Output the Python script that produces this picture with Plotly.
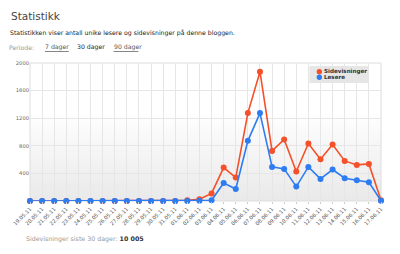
import plotly.graph_objects as go

dates = ["19.05.11","20.05.11","21.05.11","22.05.11","23.05.11","24.05.11","25.05.11",
         "26.05.11","27.05.11","28.05.11","29.05.11","30.05.11","31.05.11","01.06.11",
         "02.06.11","03.06.11","04.06.11","05.06.11","06.06.11","07.06.11","08.06.11",
         "09.06.11","10.06.11","11.06.11","12.06.11","13.06.11","14.06.11","15.06.11",
         "16.06.11","17.06.11"]
sidevisninger = [0,0,0,0,0,0,0,0,0,0,0,0,0,10,25,110,485,340,1274,1874,726,892,427,834,606,819,581,523,537,10]
lesere = [0,0,0,0,0,0,0,0,0,0,0,0,0,0,2,10,262,174,872,1274,494,465,209,494,320,456,330,300,272,5]
y_ticks = [400, 800, 1200, 1600, 2000]
series_names = ["Sidevisninger", "Lesere"]

RED = "#f4502a"
BLUE = "#2e7cf2"

L, R, T, B = 28, 19, 63, 53
W, H = 400, 254
pw, ph = W - L - R, H - T - B

def px(x):
    return (x - L) / pw

def py(y):
    return (H - B - y) / ph

fig = go.Figure()
x_idx = list(range(len(dates)))
for name, vals, col in [(series_names[0], sidevisninger, RED), (series_names[1], lesere, BLUE)]:
    fig.add_trace(go.Scatter(x=x_idx, y=vals, name=name, mode="lines+markers",
                             line=dict(color=col, width=1.6), marker=dict(color=col, size=6),
                             cliponaxis=False, showlegend=False))

# background gradient
shapes = []
n = 30
for k in range(n):
    y0 = k / n * 0.65
    y1 = (k + 1) / n * 0.65 + 0.001
    t = k / (n - 1)
    c = int(234 + (255 - 234) * t)
    shapes.append(dict(type="rect", xref="x domain", yref="y domain", x0=0, x1=1, y0=y0, y1=y1,
                       fillcolor=f"rgb({c},{c},{c})", line=dict(width=0), layer="below"))
shapes.append(dict(type="rect", xref="x domain", yref="y domain", x0=0, x1=1, y0=0, y1=1,
                   fillcolor="rgba(0,0,0,0)", line=dict(color="#dddddd", width=1), layer="below"))

# custom legend
shapes.append(dict(type="rect", xref="paper", yref="paper", x0=px(309), x1=px(368), y0=py(83), y1=py(66),
                   fillcolor="#e6e6e6", line=dict(width=0), layer="above"))
for yy, col in [(71.7, RED), (77.3, BLUE)]:
    shapes.append(dict(type="circle", xref="paper", yref="paper", x0=px(316.3), x1=px(321.7),
                       y0=py(yy + 2.7), y1=py(yy - 2.7), fillcolor=col, line=dict(width=0),
                       layer="above"))

# underlines for links
for x0, x1 in [(43, 67), (112, 137)]:
    shapes.append(dict(type="line", xref="paper", yref="paper", x0=px(x0), x1=px(x1),
                       y0=py(51.5), y1=py(51.5), line=dict(color="#666666", width=0.8)))

font = "DejaVu Sans, Verdana, sans-serif"
ann = [
    dict(text="Statistikk", x=px(7), y=py(16), font=dict(size=10.5, color="#444444")),
    dict(text="Statistikken viser antall unike lesere og sidevisninger på denne bloggen.",
         x=px(6), y=py(33), font=dict(size=6.2, color="#222222")),
    dict(text="Periode:", x=px(5), y=py(47.5), font=dict(size=6.2, color="#999999")),
    dict(text="7 dager", x=px(41), y=py(47.5), font=dict(size=6.2, color="#555555")),
    dict(text="30 dager", x=px(73), y=py(47.5), font=dict(size=6.2, color="#222222")),
    dict(text="90 dager", x=px(110), y=py(47.5), font=dict(size=6.2, color="#555555")),
    dict(text="Sidevisninger siste 30 dager: <b><span style='color:#333'>10 005</span></b>",
         x=px(22), y=py(239), font=dict(size=6.3, color="#999999")),
    dict(text="<b>" + series_names[0] + "</b>", x=px(322), y=py(71.7), font=dict(size=5.6, color="#333333")),
    dict(text="<b>" + series_names[1] + "</b>", x=px(322), y=py(77.3), font=dict(size=5.6, color="#333333")),
]
annotations = [dict(xref="paper", yref="paper", xanchor="left", yanchor="middle", showarrow=False,
                    font_family=font, **a) for a in ann]

fig.update_layout(
    width=W, height=H, margin=dict(l=L, r=R, t=T, b=B),
    paper_bgcolor="white", plot_bgcolor="rgba(0,0,0,0)",
    font=dict(family=font),
    shapes=shapes, annotations=annotations,
    xaxis=dict(range=[0, 29], tickmode="array", tickvals=x_idx, ticktext=dates,
               tickangle=-45, tickfont=dict(size=5.2, color="#555555"),
               showgrid=True, gridcolor="#e6e6e6", gridwidth=1, zeroline=False,
               ticks="outside", ticklen=2, tickcolor="#cccccc", showline=False),
    yaxis=dict(range=[0, 2000], tickmode="array", tickvals=y_ticks,
               tickfont=dict(size=5.2, color="#666666"),
               showgrid=True, gridcolor="#e6e6e6", gridwidth=1, zeroline=False,
               ticks="", showline=False),
)

fig.write_html("out.html")
